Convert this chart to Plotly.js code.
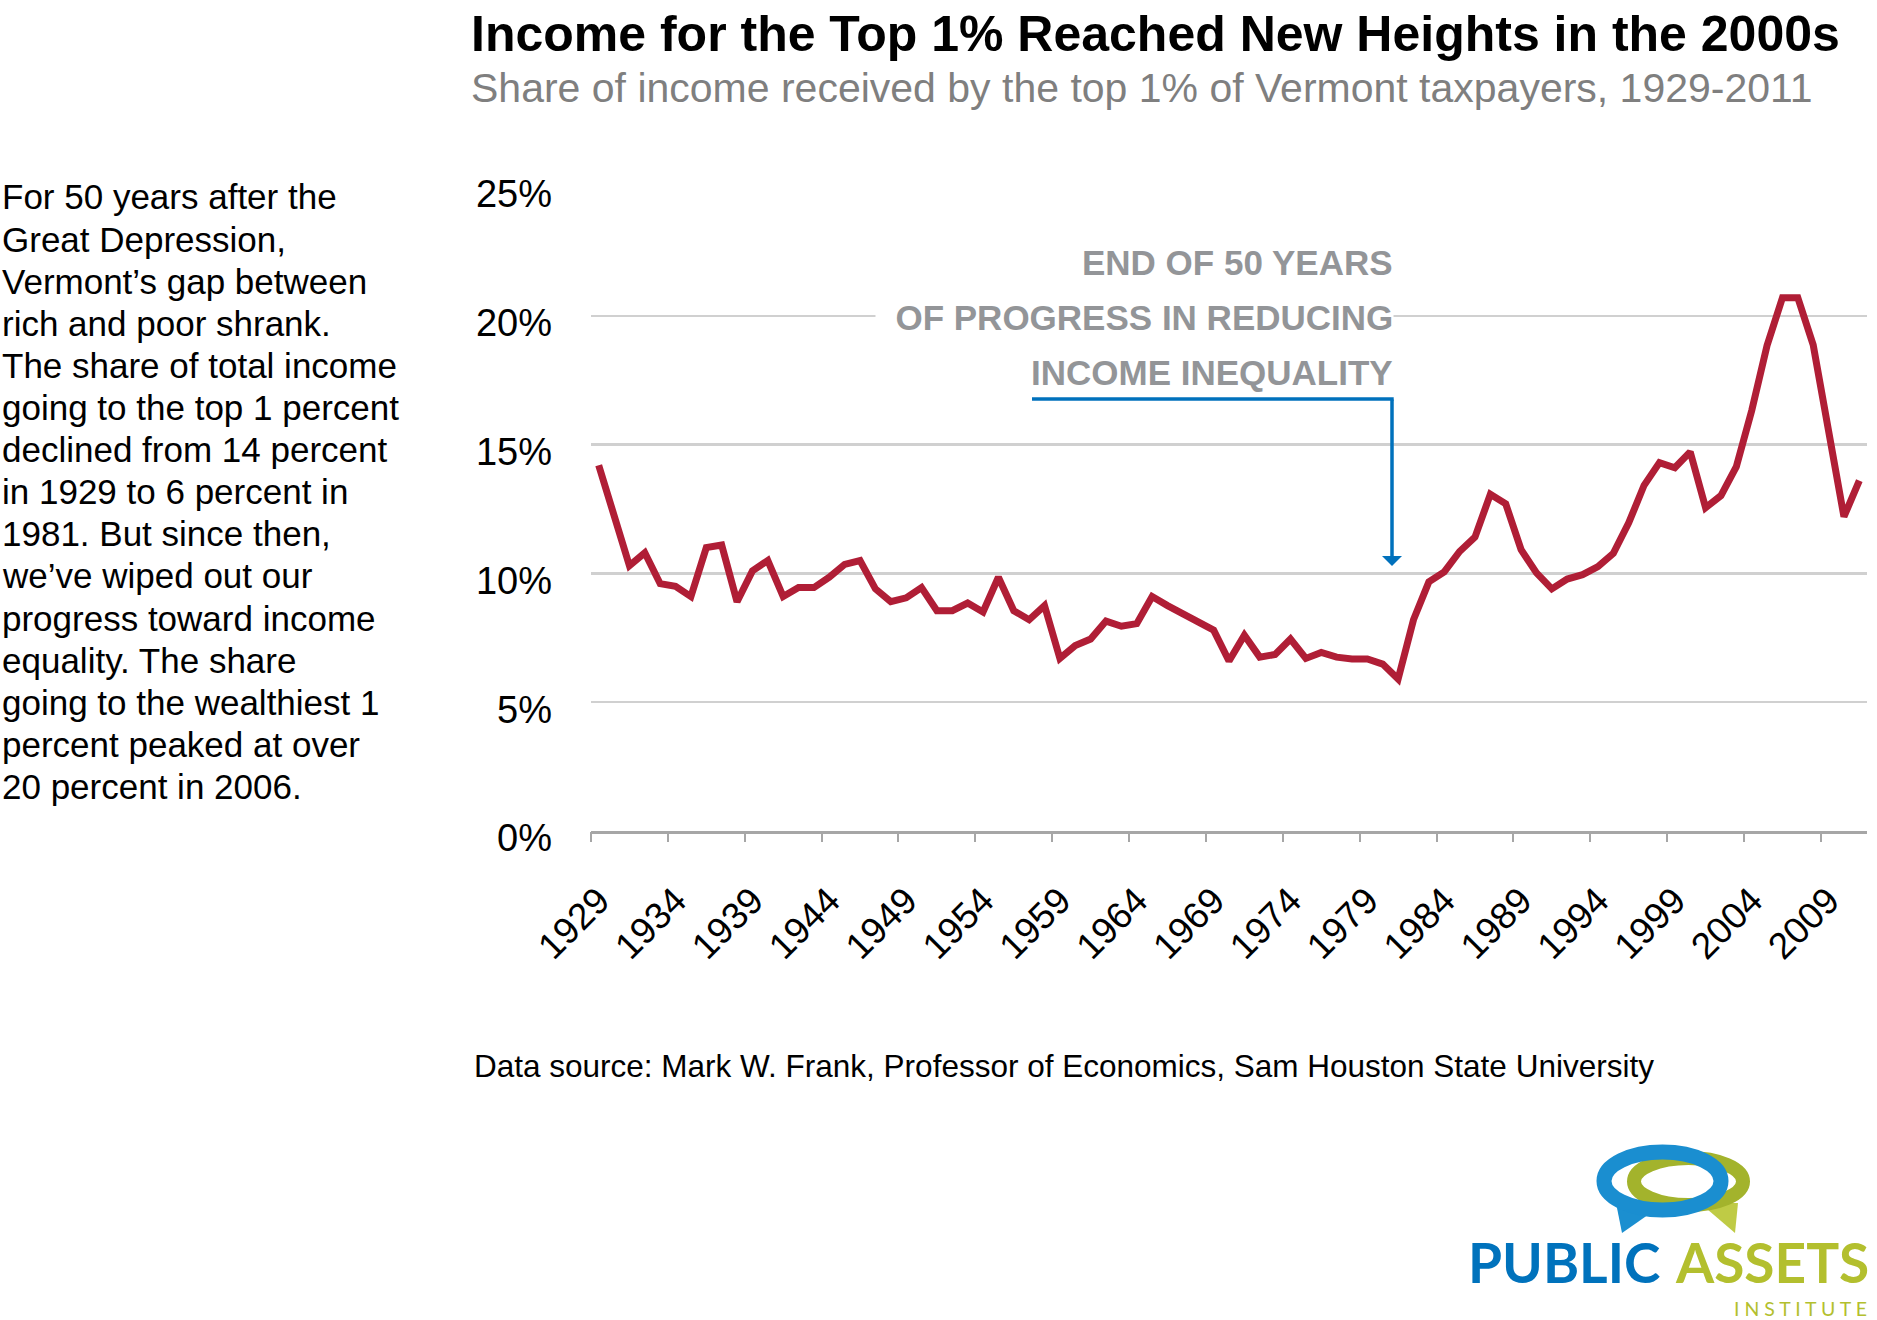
<!DOCTYPE html>
<html>
<head>
<meta charset="utf-8">
<script src="https://cdn.plot.ly/plotly-3.0.1.min.js"></script>
<style>html,body{margin:0;padding:0;background:#fff;}</style>
</head>
<body>
<div id="chart" style="width:1877px;height:1320px;"></div>
<script>
// ---- data ----
const years = [1929,1930,1931,1932,1933,1934,1935,1936,1937,1938,1939,1940,1941,1942,1943,1944,1945,1946,1947,1948,1949,
  1950,1951,1952,1953,1954,1955,1956,1957,1958,1959,1960,1961,1962,1963,1964,1965,1966,1967,1968,1969,
  1970,1971,1972,1973,1974,1975,1976,1977,1978,1979,1980,1981,1982,1983,1984,1985,1986,1987,1988,1989,
  1990,1991,1992,1993,1994,1995,1996,1997,1998,1999,2000,2001,2002,2003,2004,2005,2006,2007,2008,2009,2010,2011];
const share = [14.2,12.3,10.3,10.8,9.6,9.5,9.1,11.0,11.1,8.9,10.1,10.5,9.1,9.45,9.45,9.85,10.35,10.5,9.4,8.9,9.05,
  9.45,8.55,8.55,8.85,8.5,9.85,8.55,8.2,8.75,6.7,7.2,7.45,8.15,7.95,8.05,9.1,8.75,8.45,8.1,7.8,
  6.6,7.6,6.75,6.85,7.45,6.7,6.93,6.75,6.68,6.68,6.48,5.9,8.2,9.67,10.06,10.85,11.41,13.07,12.7,10.92,
  10.02,9.4,9.78,9.95,10.26,10.78,11.96,13.42,14.3,14.1,14.72,12.55,13.02,14.14,16.32,18.85,20.7,20.7,18.87,15.5,12.2,13.6];
const tickYears = [1929,1934,1939,1944,1949,1954,1959,1964,1969,1974,1979,1984,1989,1994,1999,2004,2009];
const tickLabels = ['1929','1934','1939','1944','1949','1954','1959','1964','1969','1974','1979','1984','1989','1994','1999','2004','2009'];
const yTicks = [0,5,10,15,20,25];
const yTickLabels = ['0%','5%','10%','15%','20%','25%'];

const titleText = 'Income for the Top 1% Reached New Heights in the 2000s';
const subtitleText = 'Share of income received by the top 1% of Vermont taxpayers, 1929-2011';
const noteLines = ['For 50 years after the','Great Depression,','Vermont\u2019s gap between','rich and poor shrank.',
  'The share of total income','going to the top 1 percent','declined from 14 percent','in 1929 to 6 percent in',
  '1981. But since then,','we\u2019ve wiped out our','progress toward income','equality. The share',
  'going to the wealthiest 1','percent peaked at over','20 percent in 2006.'];
const calloutLines = ['END OF 50 YEARS','\u00A0\u00A0OF PROGRESS IN REDUCING','INCOME INEQUALITY'];
const sourceText = 'Data source: Mark W. Frank, Professor of Economics, Sam Houston State University';

// ---- layout geometry ----
const W = 1877, H = 1320, ML = 591, MR = 10, MT = 187, MB = 489;
const PW = W - ML - MR, PH = H - MT - MB;
const px = p => (p - ML) / PW;
const py = p => (H - MB - p) / PH;
const FONT = 'Liberation Sans, Arial, Helvetica, sans-serif';
const LOGO_FONT = 'Lato, Open Sans, sans-serif';

const traces = [
  {x: years, y: share, type: 'scatter', mode: 'lines', xaxis: 'x', yaxis: 'y',
   line: {color: '#B01E36', width: 7, shape: 'linear'}, hoverinfo: 'skip', showlegend: false},
  {x: years, y: share, type: 'scatter', mode: 'lines', xaxis: 'x2', yaxis: 'y',
   line: {color: 'rgba(0,0,0,0)', width: 0}, hoverinfo: 'skip', showlegend: false}
];

const annotations = [];
annotations.push({xref: 'paper', yref: 'paper', x: px(469), y: py(34), xanchor: 'left', yanchor: 'middle',
  text: '<b>' + titleText + '</b>', showarrow: false, font: {family: FONT, size: 50, color: '#000'}});
annotations.push({xref: 'paper', yref: 'paper', x: px(469), y: py(88), xanchor: 'left', yanchor: 'middle',
  text: subtitleText, showarrow: false, font: {family: FONT, size: 41, color: '#7f7f7f'}});
noteLines.forEach((t, i) => annotations.push({xref: 'paper', yref: 'paper', x: px(0), y: py(197 + i * 42.1),
  xanchor: 'left', yanchor: 'middle', text: t, showarrow: false, font: {family: FONT, size: 35, color: '#000'}}));
calloutLines.forEach((t, i) => annotations.push({xref: 'paper', yref: 'paper', x: px(1394), y: py(262 + i * 55),
  xanchor: 'right', yanchor: 'middle', text: '<b>' + t + '</b>', showarrow: false, bgcolor: i === 1 ? '#ffffff' : 'rgba(0,0,0,0)',
  borderpad: 0, font: {family: FONT, size: 35, color: '#939598'}}));
annotations.push({xref: 'paper', yref: 'paper', x: px(1392), y: py(566), ax: 0, ay: -168, axref: 'pixel', ayref: 'pixel',
  text: '', showarrow: true, arrowhead: 1, arrowwidth: 3.5, arrowsize: 0.95, arrowcolor: '#0071BC', standoff: 0});
annotations.push({xref: 'paper', yref: 'paper', x: px(472), y: py(1066), xanchor: 'left', yanchor: 'middle',
  text: sourceText, showarrow: false, font: {family: FONT, size: 31.5, color: '#000'}});
// logo text
annotations.push({xref: 'paper', yref: 'paper', x: px(1466), y: py(1262), xanchor: 'left', yanchor: 'middle',
  text: '<b>PUBLIC</b>', showarrow: false, font: {family: LOGO_FONT, size: 55, color: '#0072BC'}});
annotations.push({xref: 'paper', yref: 'paper', x: px(1871), y: py(1262), xanchor: 'right', yanchor: 'middle',
  text: '<b>ASSETS</b>', showarrow: false, font: {family: LOGO_FONT, size: 55, color: '#B3BF2E'}});
annotations.push({xref: 'paper', yref: 'paper', x: px(1869), y: py(1308), xanchor: 'right', yanchor: 'middle',
  text: 'I N S T I T U T E', showarrow: false, font: {family: LOGO_FONT, size: 19.5, color: '#B3BF2E'}});

const shapes = [
  // callout connector line
  {type: 'line', xref: 'paper', yref: 'paper', x0: px(1032), x1: px(1393.7), y0: py(399), y1: py(399),
   line: {color: '#0071BC', width: 3.5}},
  // logo: tails, green ring, blue ring
  {type: 'path', xref: 'paper', yref: 'paper',
   path: `M ${px(1700)} ${py(1203)} L ${px(1738)} ${py(1203)} L ${px(1735)} ${py(1233)} Z`,
   fillcolor: '#BFCB45', line: {width: 0}},
  {type: 'path', xref: 'paper', yref: 'paper',
   path: `M ${px(1616)} ${py(1203)} L ${px(1655)} ${py(1210)} L ${px(1622)} ${py(1233)} Z`,
   fillcolor: '#1B8FD0', line: {width: 0}},
  {type: 'circle', xref: 'paper', yref: 'paper', x0: px(1634), x1: px(1743), y0: py(1158), y1: py(1205),
   line: {color: '#A3B32C', width: 14}},
  {type: 'circle', xref: 'paper', yref: 'paper', x0: px(1604), x1: px(1721), y0: py(1152), y1: py(1210),
   line: {color: '#1A8ED0', width: 15}}
];

const layout = {
  width: W, height: H,
  margin: {l: ML, r: MR, t: MT, b: MB, pad: 0},
  paper_bgcolor: '#ffffff', plot_bgcolor: '#ffffff',
  showlegend: false,
  xaxis: {
    type: 'linear', range: [1928.5, 2011.5], tickvals: tickYears, ticktext: tickLabels,
    tickangle: -45, ticks: '', showgrid: false, zeroline: false,
    showline: true, linecolor: '#a6a6a6', linewidth: 3,
    tickfont: {family: FONT, size: 37, color: '#000'}, ticklabelstandoff: 30, fixedrange: true
  },
  xaxis2: {
    type: 'linear', range: [1928.5, 2011.5], overlaying: 'x', anchor: 'y', side: 'bottom',
    tickvals: tickYears.map(v => v - 0.5), ticks: 'outside', ticklen: 10, tickwidth: 2, tickcolor: '#a6a6a6',
    showticklabels: false, showgrid: false, zeroline: false, showline: false, fixedrange: true
  },
  yaxis: {
    range: [0, 25], tickvals: yTicks, ticktext: yTickLabels, showgrid: true,
    gridcolor: '#d0d0d0', gridwidth: 2.5, zeroline: false, showline: false, ticks: '',
    tickfont: {family: FONT, size: 38, color: '#000'}, ticklabelstandoff: 38, ticklabelshift: 7, fixedrange: true
  },
  annotations: annotations,
  shapes: shapes
};

Plotly.newPlot('chart', traces, layout, {displayModeBar: false, staticPlot: true});
</script>
</body>
</html>
